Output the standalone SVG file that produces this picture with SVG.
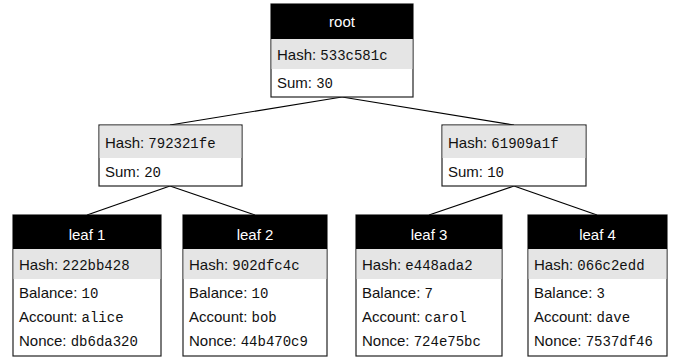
<svg xmlns="http://www.w3.org/2000/svg" width="678" height="358" viewBox="0 0 678 358">
  <style>
    .box { fill: #ffffff; stroke: #222222; stroke-width: 1.2; }
    .head { fill: #000000; }
    .hash { fill: #e5e5e5; }
    .t { font-family: "Liberation Sans", Arial, sans-serif; font-size: 15px; fill: #111111; }
    .h { font-family: "Liberation Sans", Arial, sans-serif; font-size: 15px; fill: #ffffff; text-anchor: middle; }
    .m { font-family: "Liberation Mono", "Courier New", monospace; font-size: 14px; }
    .edge { stroke: #000000; stroke-width: 1.2; fill: none; }
  </style>

  <!-- connectors -->
  <g id="connectors">
    <line class="edge" x1="342" y1="97" x2="170" y2="125"/>
    <line class="edge" x1="342" y1="97" x2="514" y2="125"/>
    <line class="edge" x1="170" y1="186" x2="87" y2="215"/>
    <line class="edge" x1="170" y1="186" x2="255" y2="215"/>
    <line class="edge" x1="514" y1="186" x2="429" y2="215"/>
    <line class="edge" x1="514" y1="186" x2="597" y2="215"/>
  </g>

  <!-- root -->
  <g id="root">
    <rect class="box" x="271" y="4" width="142" height="93"/>
    <rect class="hash" x="271.6" y="39" width="140.8" height="30"/>
    <rect class="head" x="271" y="4" width="142" height="35"/>
    <text class="h" x="342" y="27">root</text>
    <text class="t" x="277" y="60">Hash: <tspan class="m">533c581c</tspan></text>
    <text class="t" x="277" y="88">Sum: <tspan class="m">30</tspan></text>
  </g>

  <!-- inner node, left -->
  <g id="inner-left">
    <rect class="box" x="99" y="125" width="143" height="61"/>
    <rect class="hash" x="99.6" y="125.6" width="141.8" height="32.4"/>
    <text class="t" x="105" y="148">Hash: <tspan class="m">792321fe</tspan></text>
    <text class="t" x="105" y="177">Sum: <tspan class="m">20</tspan></text>
  </g>

  <!-- inner node, right -->
  <g id="inner-right">
    <rect class="box" x="442" y="125" width="144" height="61"/>
    <rect class="hash" x="442.6" y="125.6" width="142.8" height="32.4"/>
    <text class="t" x="448" y="148">Hash: <tspan class="m">61909a1f</tspan></text>
    <text class="t" x="448" y="177">Sum: <tspan class="m">10</tspan></text>
  </g>

  <!-- leaf 1 -->
  <g id="leaf1">
    <rect class="box" x="13" y="215" width="148" height="141"/>
    <rect class="hash" x="13.6" y="249" width="146.8" height="30"/>
    <rect class="head" x="13" y="215" width="148" height="34"/>
    <text class="h" x="87" y="240">leaf 1</text>
    <text class="t" x="19" y="270">Hash: <tspan class="m">222bb428</tspan></text>
    <text class="t" x="19" y="298">Balance: <tspan class="m">10</tspan></text>
    <text class="t" x="19" y="322">Account: <tspan class="m">alice</tspan></text>
    <text class="t" x="19" y="346">Nonce: <tspan class="m">db6da320</tspan></text>
  </g>

  <!-- leaf 2 -->
  <g id="leaf2">
    <rect class="box" x="183" y="215" width="144" height="141"/>
    <rect class="hash" x="183.6" y="249" width="142.8" height="30"/>
    <rect class="head" x="183" y="215" width="144" height="34"/>
    <text class="h" x="255" y="240">leaf 2</text>
    <text class="t" x="189" y="270">Hash: <tspan class="m">902dfc4c</tspan></text>
    <text class="t" x="189" y="298">Balance: <tspan class="m">10</tspan></text>
    <text class="t" x="189" y="322">Account: <tspan class="m">bob</tspan></text>
    <text class="t" x="189" y="346">Nonce: <tspan class="m">44b470c9</tspan></text>
  </g>

  <!-- leaf 3 -->
  <g id="leaf3">
    <rect class="box" x="356" y="215" width="146" height="141"/>
    <rect class="hash" x="356.6" y="249" width="144.8" height="30"/>
    <rect class="head" x="356" y="215" width="146" height="34"/>
    <text class="h" x="429" y="240">leaf 3</text>
    <text class="t" x="362" y="270">Hash: <tspan class="m">e448ada2</tspan></text>
    <text class="t" x="362" y="298">Balance: <tspan class="m">7</tspan></text>
    <text class="t" x="362" y="322">Account: <tspan class="m">carol</tspan></text>
    <text class="t" x="362" y="346">Nonce: <tspan class="m">724e75bc</tspan></text>
  </g>

  <!-- leaf 4 -->
  <g id="leaf4">
    <rect class="box" x="528" y="215" width="139" height="141"/>
    <rect class="hash" x="528.6" y="249" width="137.8" height="30"/>
    <rect class="head" x="528" y="215" width="139" height="34"/>
    <text class="h" x="597.5" y="240">leaf 4</text>
    <text class="t" x="534" y="270">Hash: <tspan class="m">066c2edd</tspan></text>
    <text class="t" x="534" y="298">Balance: <tspan class="m">3</tspan></text>
    <text class="t" x="534" y="322">Account: <tspan class="m">dave</tspan></text>
    <text class="t" x="534" y="346">Nonce: <tspan class="m">7537df46</tspan></text>
  </g>
</svg>
